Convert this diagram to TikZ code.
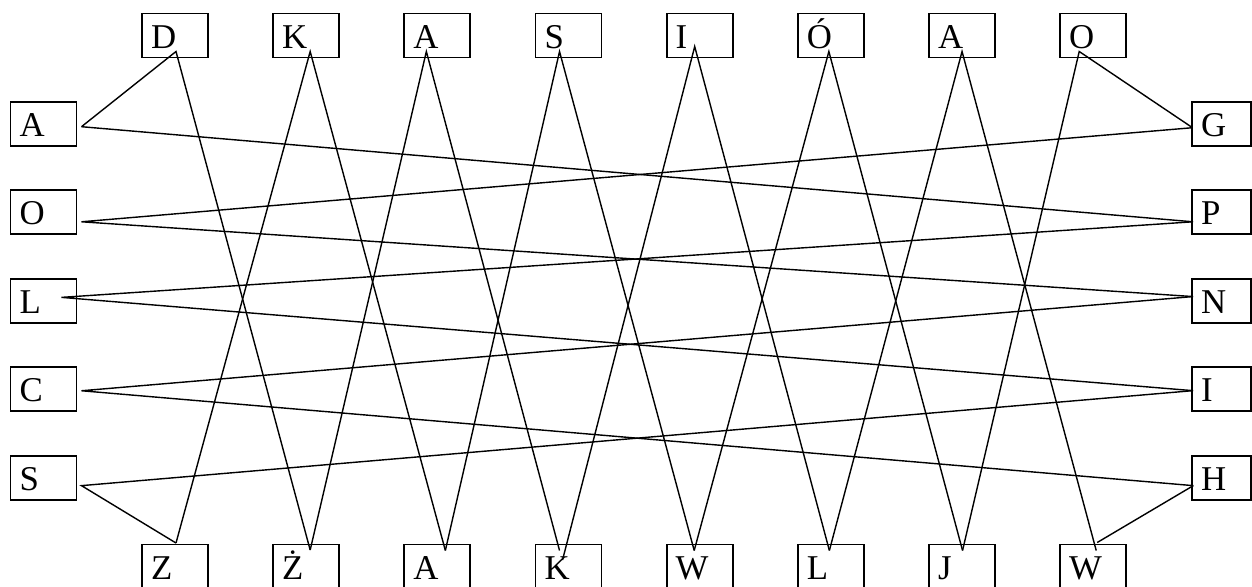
\documentclass[tikz,border=0pt]{standalone}
\usepackage{fontspec}
\setmainfont{Liberation Serif}
\usepackage{tikz}
\usetikzlibrary{positioning,calc}

\begin{document}
\begin{tikzpicture}[
  x=0.02cm, y=-0.02cm,
  box/.style={draw, line width=1.1pt, outer sep=0pt, minimum height=0.88cm, text width=0.96cm,
              inner xsep=0.18cm, inner ysep=0.05cm, align=left,
              text height=0.6cm, text depth=0.1cm, font=\fontsize{19.8}{22}\selectfont},
  rbox/.style={box, text width=0.82cm},
  link/.style={line width=0.8pt},
  node distance=0.892cm and 1.304cm
]
\useasboundingbox (0,0) rectangle (1252,586);

% top row
\node[box] (tD) at (175,35.5) {D};
\node[box, right=of tD] (tK) {K};
\node[box, right=of tK] (tA) {A};
\node[box, right=of tA] (tS) {S};
\node[box, right=of tS] (tI) {I};
\node[box, right=of tI] (tOa) {Ó};
\node[box, right=of tOa] (tAb) {A};
\node[box, right=of tAb] (tO) {O};

% left column
\node[box] (lA) at (43.5,123.7) {A};
\node[box, below=of lA] (lO) {O};
\node[box, below=of lO] (lL) {L};
\node[box, below=of lL] (lC) {C};
\node[box, below=of lC] (lS) {S};

% right column
\node[rbox] (rG) at (1221.5,123.7) {G};
\node[rbox, below=of rG] (rP) {P};
\node[rbox, below=of rP] (rN) {N};
\node[rbox, below=of rN] (rI) {I};
\node[rbox, below=of rI] (rH) {H};

% bottom row
\node[box] (bZ) at (175,566.5) {Z};
\node[box, right=of bZ] (bZd) {Ż};
\node[box, right=of bZd] (bA) {A};
\node[box, right=of bA] (bK) {K};
\node[box, right=of bK] (bW) {W};
\node[box, right=of bW] (bL) {L};
\node[box, right=of bL] (bJ) {J};
\node[box, right=of bJ] (bWb) {W};

% line ends
\coordinate (pD)  at ($(tD.south west)+(34,-6)$);
\coordinate (pK)  at ($(tK.south west)+(37,-6)$);
\coordinate (pA)  at ($(tA.south west)+(22,-6)$);
\coordinate (pS)  at ($(tS.south west)+(24,-6)$);
\coordinate (pI)  at ($(tI.south west)+(28,-11)$);
\coordinate (pOa) at ($(tOa.south west)+(31,-6)$);
\coordinate (pAb) at ($(tAb.south west)+(33,-6)$);
\coordinate (pO)  at ($(tO.south west)+(19,-6)$);

\coordinate (qA) at ($(lA.east)+(5,3)$);
\coordinate (qO) at ($(lO.east)+(5,9.5)$);
\coordinate (qL) at ($(lL.east)+(-15,-3.5)$);
\coordinate (qC) at ($(lC.east)+(5,1.3)$);
\coordinate (qS) at ($(lS.east)+(5,7.6)$);

\coordinate (sG) at ($(rG.west)+(0.5,4)$);
\coordinate (sP) at ($(rP.west)+(1,9.5)$);
\coordinate (sN) at ($(rN.west)+(1,-4.3)$);
\coordinate (sI) at ($(rI.west)+(1,1.2)$);
\coordinate (sH) at ($(rH.west)+(1.3,7.6)$);

\coordinate (uZ)  at ($(bZ.north west)+(34,-1.5)$);
\coordinate (uZd) at ($(bZd.north west)+(37,5.5)$);
\coordinate (uA)  at ($(bA.north west)+(41,6)$);
\coordinate (uK)  at ($(bK.north west)+(24,6)$);
\coordinate (uKb) at ($(bK.north west)+(27,15.5)$);
\coordinate (uW)  at ($(bW.north west)+(27.5,6)$);
\coordinate (uL)  at ($(bL.north west)+(31.5,6)$);
\coordinate (uJ)  at ($(bJ.north west)+(33.5,6)$);
\coordinate (uWb) at ($(bWb.north west)+(36,6)$);
\coordinate (uWc) at ($(bWb.north west)+(37,-2)$);

% lines
\draw[link] (qA) -- (pD) -- (uZd);
\draw[link] (uZ) -- (pK) -- (uA);
\draw[link] (uZd) -- (pA) -- (uK);
\draw[link] (uA) -- (pS) -- (uW);
\draw[link] (uKb) -- (pI) -- (uL);
\draw[link] (uW) -- (pOa) -- (uJ);
\draw[link] (uL) -- (pAb) -- (uWb);
\draw[link] (uJ) -- (pO) -- (sG);
\draw[link] (qA) -- (sP);
\draw[link] (sG) -- (qO) -- (sN);
\draw[link] (sP) -- (qL) -- (sI);
\draw[link] (sN) -- (qC) -- (sH);
\draw[link] (sI) -- (qS) -- (uZ);
\draw[link] (sH) -- (uWc);
\end{tikzpicture}
\end{document}
